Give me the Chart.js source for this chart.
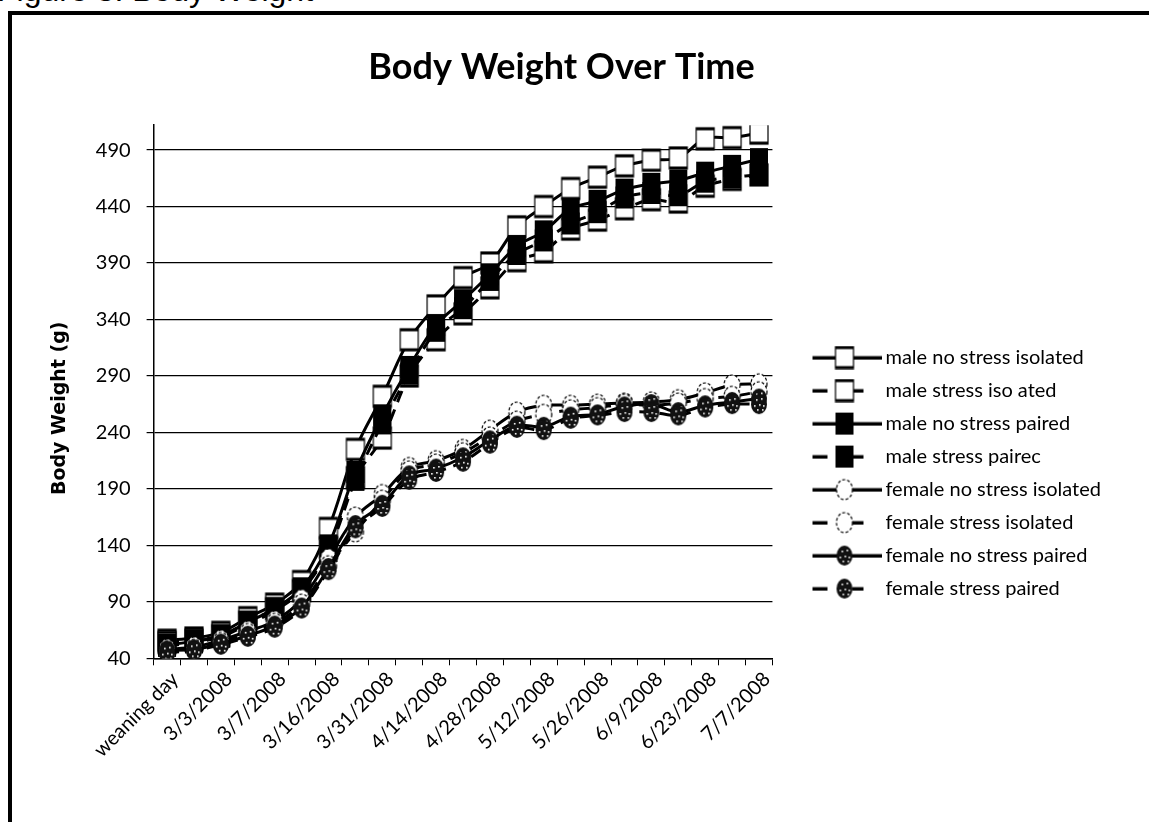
<!DOCTYPE html>
<html>
<head>
<meta charset="utf-8">
<script src="https://cdn.jsdelivr.net/npm/chart.js@4.4.1/dist/chart.umd.min.js"></script>
<style>
    html, body { margin: 0; padding: 0; background: #fff; overflow: hidden; }
    #fig { position: absolute; left: -3px; top: -26px; font: 32px "Liberation Sans", Arial, sans-serif; line-height: 1; color: #000; white-space: nowrap; }
    #frame { position: absolute; left: 8px; top: 11px; width: 1300px; height: 1000px; border-left: 4px solid #000; border-top: 4px solid #000; }
    #wrap { position: absolute; left: 12px; top: 15px; width: 1137px; height: 807px; }
</style>
</head>
<body>
<div id="fig">Figure 3: Body Weight</div>
<div id="frame"></div>
<div id="wrap"><canvas id="weightChart"></canvas></div>
<script>
/* ---- data ---- */
// every second category carries a label on the axis
const categories = ['weaning day', '2/29/2008', '3/3/2008', '3/5/2008', '3/7/2008', '3/11/2008', '3/16/2008',
    '3/24/2008', '3/31/2008', '4/7/2008', '4/14/2008', '4/21/2008', '4/28/2008', '5/5/2008', '5/12/2008',
    '5/19/2008', '5/26/2008', '6/2/2008', '6/9/2008', '6/16/2008', '6/23/2008', '6/30/2008', '7/7/2008'];

const maleNoStressIsolated   = [56, 58, 63, 76, 88, 108, 155, 225, 272, 322, 352, 377, 390, 422, 440, 456, 466, 476, 481, 483, 500, 501, 505];
const maleStressIsolated     = [54, 56, 60, 72, 84, 100, 138, 200, 235, 290, 322, 345, 368, 392, 400, 420, 428, 438, 446, 444, 458, 464, 468];
const maleNoStressPaired     = [52, 55, 60, 72, 84, 102, 140, 205, 255, 298, 335, 357, 380, 405, 418, 438, 445, 455, 460, 463, 470, 476, 482];
const maleStressPaired       = [51, 54, 59, 70, 82, 100, 135, 198, 248, 292, 330, 350, 375, 398, 410, 425, 435, 448, 452, 450, 462, 466, 468];
const femaleNoStressIsolated = [48, 50, 56, 64, 73, 92, 128, 165, 185, 209, 215, 225, 242, 258, 264, 264, 265, 266, 267, 269, 275, 282, 283];
const femaleStressIsolated   = [46, 48, 54, 62, 71, 88, 122, 152, 180, 206, 212, 222, 236, 250, 256, 260, 262, 265, 264, 266, 270, 272, 276];
const femaleNoStressPaired   = [47, 48, 53, 60, 69, 85, 120, 158, 176, 202, 208, 218, 233, 246, 245, 254, 256, 263, 265, 258, 264, 267, 270];
const femaleStressPaired     = [45, 47, 52, 59, 67, 84, 118, 155, 174, 198, 205, 214, 230, 244, 242, 252, 255, 258, 258, 255, 262, 265, 265];

const seriesNames = ['male no stress isolated', 'male stress iso ated', 'male no stress paired', 'male stress pairec',
    'female no stress isolated', 'female stress isolated', 'female no stress paired', 'female stress paired'];
const yTicks = [40, 90, 140, 190, 240, 290, 340, 390, 440, 490];

const seriesData = [maleNoStressIsolated, maleStressIsolated, maleNoStressPaired, maleStressPaired,
    femaleNoStressIsolated, femaleStressIsolated, femaleNoStressPaired, femaleStressPaired];
const markerKinds = ['openSquare', 'openSquare', 'fillSquare', 'fillSquare', 'openCircle', 'openCircle', 'dotCircle', 'dotCircle'];
const dashedSeries = [false, true, false, true, false, true, false, true];

/* ---- marker pictures (Excel-like) ---- */
function drawMarker(g, kind, cx, cy) {
    g.save();
    if (kind === 'openSquare') {
        g.fillStyle = '#fff'; g.fillRect(cx - 9, cy - 11, 18, 22);
        g.strokeStyle = '#000'; g.lineWidth = 1.2; g.strokeRect(cx - 9, cy - 11, 18, 22);
        g.fillStyle = '#000'; g.fillRect(cx - 9, cy - 11, 18, 2.5); g.fillRect(cx - 9, cy + 8.5, 18, 2.5);
    } else if (kind === 'fillSquare') {
        g.fillStyle = '#000'; g.fillRect(cx - 9, cy - 11, 18, 22);
    } else if (kind === 'openCircle') {
        g.beginPath(); g.ellipse(cx, cy, 8, 10, 0, 0, Math.PI * 2);
        g.fillStyle = '#fff'; g.fill();
        g.setLineDash([3, 2]); g.strokeStyle = '#000'; g.lineWidth = 1.2; g.stroke();
    } else {
        g.beginPath(); g.ellipse(cx, cy, 8, 10, 0, 0, Math.PI * 2);
        g.fillStyle = '#111'; g.fill();
        g.fillStyle = '#fff';
        [[-3, -5], [2, -6], [-5, 1], [0, 0], [4, 1], [-2, 5], [3, 5]].forEach(([dx, dy]) => g.fillRect(cx + dx, cy + dy, 1.6, 1.6));
    }
    g.restore();
}

function markerImage(kind) {
    const c = document.createElement('canvas');
    c.width = 22; c.height = 26;
    drawMarker(c.getContext('2d'), kind, 11, 13);
    return c;
}

// legend picture: line segment with the marker, drawn in the right 70px of the image
function legendImage(kind, dashed) {
    const c = document.createElement('canvas');
    c.width = 104; c.height = 24;
    const g = c.getContext('2d');
    const x0 = 34, y = 12;
    g.fillStyle = '#000';
    if (dashed) {
        g.fillRect(x0, y - 1.5, 15, 3.5);
        g.fillRect(x0 + 40, y - 1.5, 11, 3.5);
    } else {
        g.fillRect(x0, y - 1.5, 70, 3.5);
    }
    drawMarker(g, kind, x0 + 32, y);
    return c;
}

const legendIcons = markerKinds.map((k, i) => legendImage(k, dashedSeries[i]));

/* ---- chart ---- */
const tickFont = { family: 'Lato', size: 20 };

new Chart(document.getElementById('weightChart'), {
    type: 'line',
    data: {
        labels: categories,
        datasets: seriesNames.map((name, i) => ({
            label: name,
            data: seriesData[i],
            borderColor: '#000',
            backgroundColor: '#000',
            borderWidth: 3,
            borderDash: dashedSeries[i] ? [12, 8] : [],
            pointStyle: markerImage(markerKinds[i]),
            pointRadius: 9,
            pointHoverRadius: 9,
            tension: 0.35,
            fill: false,
            order: seriesNames.length - i
        }))
    },
    options: {
        responsive: true, maintainAspectRatio: false, animation: false,
        layout: { padding: { left: 0, right: 38, top: 0, bottom: 58 } },
        plugins: {
            title: {
                display: true, text: 'Body Weight Over Time', color: '#000',
                font: { family: 'Lato', weight: 'bold', size: 36 },
                padding: { top: 31, bottom: 36 }
            },
            legend: {
                position: 'right', align: 'start', maxWidth: 420,
                title: { display: true, text: ' ', font: { size: 8 }, padding: { top: 310, bottom: 0 } },
                labels: {
                    usePointStyle: true, pointStyleWidth: 90, padding: 13, color: '#000',
                    font: { family: 'Lato', size: 20 },
                    sort: (a, b) => a.datasetIndex - b.datasetIndex,
                    generateLabels: chart => Chart.defaults.plugins.legend.labels.generateLabels(chart)
                        .map(l => ({ ...l, pointStyle: legendIcons[l.datasetIndex] }))
                }
            },
            tooltip: { enabled: false }
        },
        scales: {
            x: {
                offset: true,
                grid: { offset: true, drawOnChartArea: false, drawTicks: true, tickLength: 7, color: '#000' },
                border: { color: '#000', width: 1.5 },
                ticks: {
                    autoSkip: false, maxRotation: 45, minRotation: 45, padding: 2, labelOffset: 8, color: '#000', font: tickFont,
                    callback: (v, i) => i % 2 === 0 ? categories[i] : ''
                }
            },
            y: {
                min: 40, max: 512,
                afterBuildTicks: s => { s.ticks = yTicks.map(v => ({ value: v })); },
                grid: { color: '#000', lineWidth: 1.2, tickLength: 7 },
                border: { color: '#000', width: 1.5 },
                ticks: { padding: 16, color: '#000', font: tickFont },
                title: {
                    display: true, text: 'Body Weight (g)     ', color: '#000',
                    font: { family: 'DejaVu Sans', weight: 'bold', size: 19 },
                    padding: { top: 37, bottom: 8 }
                }
            }
        }
    }
});
</script>
</body>
</html>
